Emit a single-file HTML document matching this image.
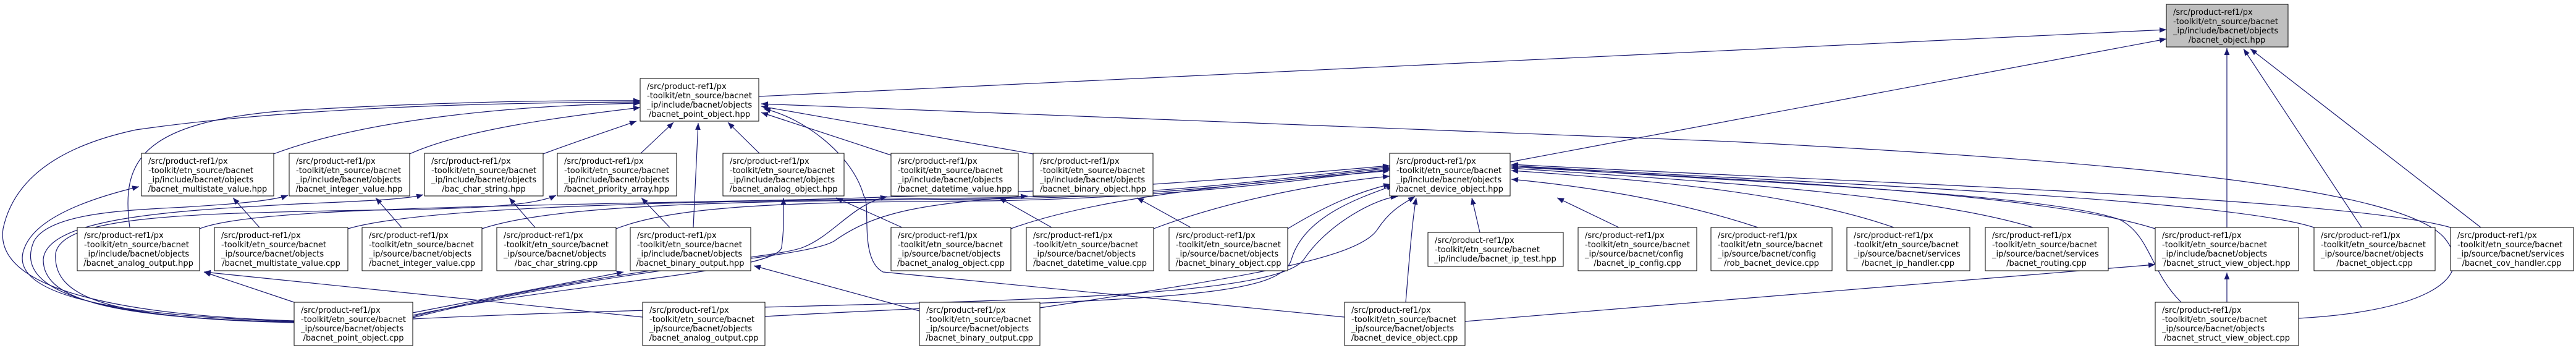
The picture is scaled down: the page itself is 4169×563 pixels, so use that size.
<!DOCTYPE html>
<html><head><meta charset="utf-8"><style>
html,body{margin:0;padding:0;background:#fff;}
svg{display:block;}
text{font-family:"DejaVu Sans","Liberation Sans",sans-serif;font-size:13px;fill:#000;}
.b{fill:#fff;stroke:#000;stroke-width:1;}
.g{fill:#bfbfbf;stroke:#000;stroke-width:1;}
.e{fill:none;stroke:#191970;stroke-width:1.2;}
</style></head><body>
<svg width="4169" height="563" viewBox="0 0 4169 563" xmlns="http://www.w3.org/2000/svg">
<defs>
<marker id="a" viewBox="0 0 10 8" refX="10" refY="4" markerWidth="11" markerHeight="9" markerUnits="userSpaceOnUse" orient="auto">
<path d="M0,0 L10,4 L0,8 z" fill="#191970"/>
</marker>
</defs>

<g class="e" marker-end="url(#a)">
<!-- to bacnet_object.hpp -->
<path d="M1228,156 L3506,48"/>
<path d="M2444,262 L3506,63"/>
<path d="M3604,368 L3604,78"/>
<path d="M3822,368 L3631,79"/>
<path d="M4015,368 L3642,79"/>
<!-- to point_object.hpp -->
<path d="M443,249 C600,190 850,170 1036,167"/>
<path d="M663,249 C750,210 900,190 1036,174"/>
<path d="M879,249 C930,230 990,210 1030,196"/>
<path d="M1037,248 L1090,198"/>
<path d="M1229,248 L1178,198"/>
<path d="M1442,251 L1232,182"/>
<path d="M1672,249 L1232,172"/>
<path d="M1122,368 L1130,199"/>
<path d="M210,368 C195,260 230,200 450,180 C700,165 900,162 1036,163"/>
<path d="M476,519 C200,510 -10,470 5,370 C20,300 80,240 220,210 C500,170 850,166 1036,165"/>
<path d="M3720,515 C3900,505 4010,460 3960,390 C3900,300 3400,260 2800,229 L1232,168"/>
<path d="M2176,513 L1429,440 C1390,420 1410,330 1398,317 C1380,250 1300,190 1236,176"/>
<!-- to row2 hpp from point_object.cpp -->
<path d="M476,520 C150,510 10,470 40,400 C60,350 150,320 225,302"/>
<path d="M476,521 C150,515 20,470 55,390 C80,345 200,340 300,335 C380,330 440,325 466,316"/>
<path d="M476,521 C160,515 70,480 70,420 C75,350 300,340 480,330 C600,325 660,322 685,315"/>
<path d="M476,522 C170,515 85,480 90,410 C100,350 300,345 600,340 C800,338 870,330 900,316"/>
<path d="M668,510 C900,460 1260,440 1265,400 C1270,360 1268,340 1268,320"/>
<path d="M668,512 C1000,430 1250,420 1300,400 C1350,380 1380,330 1436,318"/>
<path d="M668,514 C1000,430 1300,420 1350,390 C1420,340 1500,330 1663,317"/>
<path d="M476,489 L330,440"/>
<path d="M668,506 L1009,440"/>
<!-- row3 to row2 -->
<path d="M420,368 L377,320"/>
<path d="M650,368 L608,320"/>
<path d="M866,368 L824,320"/>
<path d="M1084,368 L1038,320"/>
<path d="M1460,368 L1353,320"/>
<path d="M1702,368 L1617,320"/>
<path d="M1927,368 L1840,320"/>
<!-- AOUTc -->
<path d="M1040,513 L330,440"/>
<path d="M1488,503 L1220,430"/>
<!-- to device_object.hpp -->
<path d="M323,370 C400,340 700,335 1200,325 C1700,315 2000,290 2249,268"/>
<path d="M563,370 C700,330 1200,325 1600,320 C1900,315 2100,285 2249,270"/>
<path d="M780,370 C900,330 1200,325 1600,322 C1900,318 2100,288 2249,272"/>
<path d="M997,370 C1100,330 1300,327 1600,325 C1900,320 2100,292 2249,274"/>
<path d="M1636,370 C1800,310 2100,290 2249,276"/>
<path d="M1867,370 C2000,320 2150,295 2249,285"/>
<path d="M2084,370 C2150,330 2200,310 2250,298"/>
<path d="M2395,376 L2382,320"/>
<path d="M2620,368 L2520,320"/>
<path d="M2845,368 C2700,320 2550,300 2446,290"/>
<path d="M3065,368 C2900,310 2650,290 2446,276"/>
<path d="M3290,368 C3100,310 2700,290 2446,272"/>
<path d="M3488,370 C3300,310 2800,290 2446,270"/>
<path d="M3745,368 C3600,320 2900,295 2446,268"/>
<path d="M3966,368 C3800,320 3000,295 2446,266"/>
<path d="M3530,489 C3480,440 3480,380 3430,355 C3300,310 2800,295 2446,268"/>
<path d="M2275,489 C2280,430 2285,360 2292,320"/>
<path d="M1238,512 C1800,480 2070,490 2090,420 C2110,350 2200,320 2255,300"/>
<path d="M668,516 C1300,485 2050,500 2110,420 C2150,360 2230,320 2262,318"/>
<path d="M1683,498 C2000,450 2200,420 2230,370 C2250,340 2270,330 2290,318"/>
<path d="M2371,520 L3488,428"/>
<path d="M3604,489 L3604,441"/>
</g>

<!-- nodes -->
<g>
<rect class="g" x="3506" y="7" width="197" height="69"/>
<text x="3517" y="24">/src/product-ref1/px</text><text x="3517" y="39">-toolkit/etn_source/bacnet</text><text x="3517" y="54">_ip/include/bacnet/objects</text><text x="3604" y="69" text-anchor="middle">/bacnet_object.hpp</text>
</g>
<g id="nodes"></g>
<g>
<rect class="b" x="1036" y="127" width="192" height="69"/><text x="1047" y="144">/src/product-ref1/px</text><text x="1047" y="159">-toolkit/etn_source/bacnet</text><text x="1047" y="174">_ip/include/bacnet/objects</text><text x="1132" y="189" text-anchor="middle">/bacnet_point_object.hpp</text>

<rect class="b" x="229" y="248" width="214" height="69"/><text x="240" y="265">/src/product-ref1/px</text><text x="240" y="280">-toolkit/etn_source/bacnet</text><text x="240" y="295">_ip/include/bacnet/objects</text><text x="336" y="310" text-anchor="middle">/bacnet_multistate_value.hpp</text>
<rect class="b" x="468" y="248" width="195" height="69"/><text x="479" y="265">/src/product-ref1/px</text><text x="479" y="280">-toolkit/etn_source/bacnet</text><text x="479" y="295">_ip/include/bacnet/objects</text><text x="565" y="310" text-anchor="middle">/bacnet_integer_value.hpp</text>
<rect class="b" x="687" y="248" width="192" height="69"/><text x="698" y="265">/src/product-ref1/px</text><text x="698" y="280">-toolkit/etn_source/bacnet</text><text x="698" y="295">_ip/include/bacnet/objects</text><text x="783" y="310" text-anchor="middle">/bac_char_string.hpp</text>
<rect class="b" x="902" y="248" width="193" height="69"/><text x="913" y="265">/src/product-ref1/px</text><text x="913" y="280">-toolkit/etn_source/bacnet</text><text x="913" y="295">_ip/include/bacnet/objects</text><text x="998" y="310" text-anchor="middle">/bacnet_priority_array.hpp</text>
<rect class="b" x="1170" y="248" width="196" height="69"/><text x="1181" y="265">/src/product-ref1/px</text><text x="1181" y="280">-toolkit/etn_source/bacnet</text><text x="1181" y="295">_ip/include/bacnet/objects</text><text x="1268" y="310" text-anchor="middle">/bacnet_analog_object.hpp</text>
<rect class="b" x="1442" y="248" width="206" height="69"/><text x="1453" y="265">/src/product-ref1/px</text><text x="1453" y="280">-toolkit/etn_source/bacnet</text><text x="1453" y="295">_ip/include/bacnet/objects</text><text x="1545" y="310" text-anchor="middle">/bacnet_datetime_value.hpp</text>
<rect class="b" x="1672" y="248" width="194" height="69"/><text x="1683" y="265">/src/product-ref1/px</text><text x="1683" y="280">-toolkit/etn_source/bacnet</text><text x="1683" y="295">_ip/include/bacnet/objects</text><text x="1769" y="310" text-anchor="middle">/bacnet_binary_object.hpp</text>
<rect class="b" x="2249" y="248" width="195" height="69"/><text x="2260" y="265">/src/product-ref1/px</text><text x="2260" y="280">-toolkit/etn_source/bacnet</text><text x="2260" y="295">_ip/include/bacnet/objects</text><text x="2346" y="310" text-anchor="middle">/bacnet_device_object.hpp</text>

<rect class="b" x="125" y="368" width="198" height="70"/><text x="136" y="385">/src/product-ref1/px</text><text x="136" y="400">-toolkit/etn_source/bacnet</text><text x="136" y="415">_ip/include/bacnet/objects</text><text x="224" y="430" text-anchor="middle">/bacnet_analog_output.hpp</text>
<rect class="b" x="347" y="368" width="216" height="70"/><text x="358" y="385">/src/product-ref1/px</text><text x="358" y="400">-toolkit/etn_source/bacnet</text><text x="358" y="415">_ip/source/bacnet/objects</text><text x="455" y="430" text-anchor="middle">/bacnet_multistate_value.cpp</text>
<rect class="b" x="586" y="368" width="194" height="70"/><text x="597" y="385">/src/product-ref1/px</text><text x="597" y="400">-toolkit/etn_source/bacnet</text><text x="597" y="415">_ip/source/bacnet/objects</text><text x="683" y="430" text-anchor="middle">/bacnet_integer_value.cpp</text>
<rect class="b" x="804" y="368" width="193" height="70"/><text x="815" y="385">/src/product-ref1/px</text><text x="815" y="400">-toolkit/etn_source/bacnet</text><text x="815" y="415">_ip/source/bacnet/objects</text><text x="900" y="430" text-anchor="middle">/bac_char_string.cpp</text>
<rect class="b" x="1020" y="368" width="195" height="70"/><text x="1031" y="385">/src/product-ref1/px</text><text x="1031" y="400">-toolkit/etn_source/bacnet</text><text x="1031" y="415">_ip/include/bacnet/objects</text><text x="1117" y="430" text-anchor="middle">/bacnet_binary_output.hpp</text>
<rect class="b" x="1442" y="368" width="194" height="70"/><text x="1453" y="385">/src/product-ref1/px</text><text x="1453" y="400">-toolkit/etn_source/bacnet</text><text x="1453" y="415">_ip/source/bacnet/objects</text><text x="1539" y="430" text-anchor="middle">/bacnet_analog_object.cpp</text>
<rect class="b" x="1661" y="368" width="206" height="70"/><text x="1672" y="385">/src/product-ref1/px</text><text x="1672" y="400">-toolkit/etn_source/bacnet</text><text x="1672" y="415">_ip/source/bacnet/objects</text><text x="1764" y="430" text-anchor="middle">/bacnet_datetime_value.cpp</text>
<rect class="b" x="1892" y="368" width="192" height="70"/><text x="1903" y="385">/src/product-ref1/px</text><text x="1903" y="400">-toolkit/etn_source/bacnet</text><text x="1903" y="415">_ip/source/bacnet/objects</text><text x="1988" y="430" text-anchor="middle">/bacnet_binary_object.cpp</text>
<rect class="b" x="2311" y="376" width="219" height="55"/><text x="2322" y="393">/src/product-ref1/px</text><text x="2322" y="408">-toolkit/etn_source/bacnet</text><text x="2420" y="423" text-anchor="middle">_ip/include/bacnet_ip_test.hpp</text>
<rect class="b" x="2554" y="368" width="192" height="70"/><text x="2565" y="385">/src/product-ref1/px</text><text x="2565" y="400">-toolkit/etn_source/bacnet</text><text x="2565" y="415">_ip/source/bacnet/config</text><text x="2650" y="430" text-anchor="middle">/bacnet_ip_config.cpp</text>
<rect class="b" x="2769" y="368" width="196" height="70"/><text x="2780" y="385">/src/product-ref1/px</text><text x="2780" y="400">-toolkit/etn_source/bacnet</text><text x="2780" y="415">_ip/source/bacnet/config</text><text x="2867" y="430" text-anchor="middle">/rob_bacnet_device.cpp</text>
<rect class="b" x="2989" y="368" width="199" height="70"/><text x="3000" y="385">/src/product-ref1/px</text><text x="3000" y="400">-toolkit/etn_source/bacnet</text><text x="3000" y="415">_ip/source/bacnet/services</text><text x="3088" y="430" text-anchor="middle">/bacnet_ip_handler.cpp</text>
<rect class="b" x="3213" y="368" width="199" height="70"/><text x="3224" y="385">/src/product-ref1/px</text><text x="3224" y="400">-toolkit/etn_source/bacnet</text><text x="3224" y="415">_ip/source/bacnet/services</text><text x="3312" y="430" text-anchor="middle">/bacnet_routing.cpp</text>
<rect class="b" x="3488" y="368" width="232" height="70"/><text x="3499" y="385">/src/product-ref1/px</text><text x="3499" y="400">-toolkit/etn_source/bacnet</text><text x="3499" y="415">_ip/include/bacnet/objects</text><text x="3604" y="430" text-anchor="middle">/bacnet_struct_view_object.hpp</text>
<rect class="b" x="3745" y="368" width="196" height="70"/><text x="3756" y="385">/src/product-ref1/px</text><text x="3756" y="400">-toolkit/etn_source/bacnet</text><text x="3756" y="415">_ip/source/bacnet/objects</text><text x="3843" y="430" text-anchor="middle">/bacnet_object.cpp</text>
<rect class="b" x="3966" y="368" width="199" height="70"/><text x="3977" y="385">/src/product-ref1/px</text><text x="3977" y="400">-toolkit/etn_source/bacnet</text><text x="3977" y="415">_ip/source/bacnet/services</text><text x="4065" y="430" text-anchor="middle">/bacnet_cov_handler.cpp</text>

<rect class="b" x="476" y="489" width="192" height="70"/><text x="487" y="506">/src/product-ref1/px</text><text x="487" y="521">-toolkit/etn_source/bacnet</text><text x="487" y="536">_ip/source/bacnet/objects</text><text x="572" y="551" text-anchor="middle">/bacnet_point_object.cpp</text>
<rect class="b" x="1040" y="489" width="198" height="70"/><text x="1051" y="506">/src/product-ref1/px</text><text x="1051" y="521">-toolkit/etn_source/bacnet</text><text x="1051" y="536">_ip/source/bacnet/objects</text><text x="1139" y="551" text-anchor="middle">/bacnet_analog_output.cpp</text>
<rect class="b" x="1488" y="489" width="195" height="70"/><text x="1499" y="506">/src/product-ref1/px</text><text x="1499" y="521">-toolkit/etn_source/bacnet</text><text x="1499" y="536">_ip/source/bacnet/objects</text><text x="1585" y="551" text-anchor="middle">/bacnet_binary_output.cpp</text>
<rect class="b" x="2176" y="489" width="195" height="70"/><text x="2187" y="506">/src/product-ref1/px</text><text x="2187" y="521">-toolkit/etn_source/bacnet</text><text x="2187" y="536">_ip/source/bacnet/objects</text><text x="2273" y="551" text-anchor="middle">/bacnet_device_object.cpp</text>
<rect class="b" x="3488" y="489" width="232" height="70"/><text x="3499" y="506">/src/product-ref1/px</text><text x="3499" y="521">-toolkit/etn_source/bacnet</text><text x="3499" y="536">_ip/source/bacnet/objects</text><text x="3604" y="551" text-anchor="middle">/bacnet_struct_view_object.cpp</text>
</g>
</svg>
</body></html>
